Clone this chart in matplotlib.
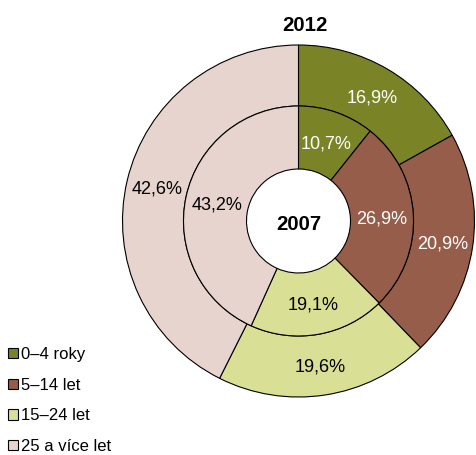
import matplotlib
matplotlib.use("Agg")
import matplotlib.pyplot as plt
from matplotlib.patches import Patch

categories = ["0–4 roky", "5–14 let", "15–24 let", "25 a více let"]
values_2012 = [16.9, 20.9, 19.6, 42.6]
values_2007 = [10.7, 26.9, 19.1, 43.2]
labels_2012 = ["16,9%", "20,9%", "19,6%", "42,6%"]
labels_2007 = ["10,7%", "26,9%", "19,1%", "43,2%"]
colors = ["#7A8426", "#955D4A", "#D9E096", "#E8D4CF"]
text_colors = ["white", "white", "black", "black"]

plt.rcParams['font.family'] = ['Liberation Sans', 'DejaVu Sans']

W, H = 476, 455
fig = plt.figure(figsize=(W / 100, H / 100), dpi=100)
ax = fig.add_axes([0, 0, 1, 1])

cx, cy = 298.5, H - 221
r_out, r_mid, r_in = 176, 115, 52

wp_out = dict(width=r_out - r_mid, edgecolor='black', linewidth=0.8)
wp_in = dict(width=r_mid - r_in, edgecolor='black', linewidth=0.8)

w1, t1 = ax.pie(values_2012, radius=r_out, center=(cx, cy), colors=colors,
                startangle=90, counterclock=False, wedgeprops=wp_out,
                labels=labels_2012, labeldistance=(r_out + r_mid) / 2 / r_out,
                textprops=dict(fontsize=13), frame=True)
w2, t2 = ax.pie(values_2007, radius=r_mid, center=(cx, cy), colors=colors,
                startangle=90, counterclock=False, wedgeprops=wp_in,
                labels=labels_2007, labeldistance=(r_mid + r_in) / 2 / r_mid,
                textprops=dict(fontsize=13), frame=True)
for t, c in zip(list(t1) + list(t2), text_colors * 2):
    t.set_color(c); t.set_ha('center'); t.set_va('center_baseline')

ax.set_xlim(0, W)
ax.set_ylim(0, H)
ax.set_aspect('equal')
ax.axis('off')

ax.text(cx, cy - 1, "2007", fontsize=14.7, fontweight='bold', ha='center', va='center_baseline')
ax.text(cx + 6, H - 23.5, "2012", fontsize=14.7, fontweight='bold', ha='center', va='center_baseline')

handles = [Patch(facecolor=c, edgecolor='black', linewidth=0.8) for c in colors]
ax.legend(handles, categories, loc='lower left', bbox_to_anchor=(-0.004, -0.02),
          frameon=False, fontsize=12, handlelength=0.57, handleheight=0.57,
          handletextpad=0.2, labelspacing=0.94, borderaxespad=0.2)

fig.savefig("out.png", dpi=100)
